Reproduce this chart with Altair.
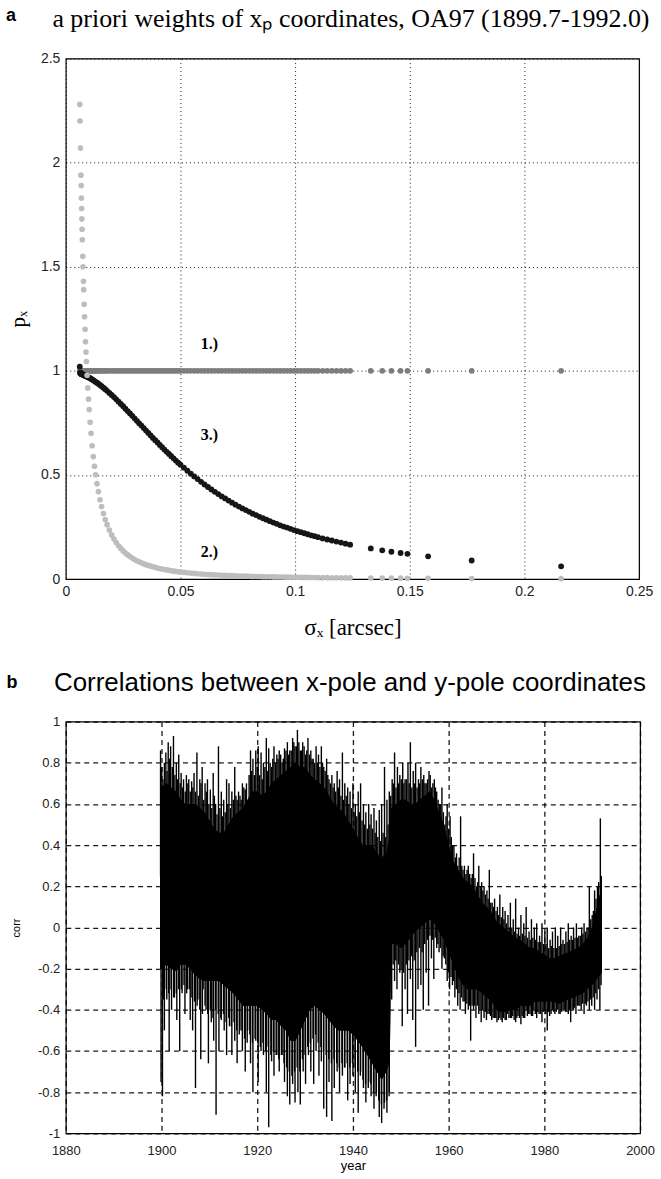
import altair as alt
import pandas as pd
import numpy as np

# ---------------- panel a data ----------------
sigma = [0.0061, 0.0062, 0.0064, 0.0066, 0.0067, 0.0068, 0.0069, 0.0070, 0.0071, 0.0072,
         0.0074, 0.0075, 0.0077, 0.0078, 0.0080, 0.0082, 0.0084, 0.0086, 0.0088, 0.0090,
         0.0093, 0.0096, 0.0099, 0.0102, 0.0106, 0.0110, 0.0115, 0.0120, 0.0125, 0.0130,
         0.0136, 0.0142, 0.0149, 0.0156, 0.0164, 0.0172, 0.0180, 0.0190, 0.0200, 0.0210,
         0.0220, 0.0230, 0.0240, 0.0250, 0.0260, 0.0270, 0.0280, 0.0290, 0.0300,
         0.0310, 0.0320, 0.0330, 0.0340, 0.0350, 0.0360, 0.0370, 0.0380, 0.0390, 0.0400,
         0.0410, 0.0420, 0.0430, 0.0440, 0.0450, 0.0460, 0.0470, 0.0480, 0.0490, 0.0500,
         0.0515, 0.0530, 0.0545, 0.0560, 0.0575, 0.0590, 0.0605, 0.0620, 0.0635, 0.0650,
         0.0665, 0.0680, 0.0695, 0.0710, 0.0725, 0.0740, 0.0755, 0.0770, 0.0785, 0.0800,
         0.0815, 0.0830, 0.0845, 0.0860, 0.0875, 0.0890, 0.0905, 0.0920, 0.0935, 0.0950,
         0.0965, 0.0980, 0.0995, 0.1010, 0.1025, 0.1040, 0.1055, 0.1070, 0.1085, 0.1100,
         0.1120, 0.1140, 0.1160, 0.1180, 0.1200, 0.1220, 0.1240,
         0.1330, 0.1380, 0.1420, 0.1460, 0.1490, 0.1580, 0.1770, 0.2160]

# series 1.) equal weights
p_equal = [1.0] * len(sigma)

# series 2.) weights falling steeply
p_steep = [2.28, 2.20, 2.07, 1.94, 1.89, 1.83, 1.78, 1.73, 1.68, 1.63,
           1.55, 1.50, 1.43, 1.39, 1.32, 1.26, 1.20, 1.14, 1.09, 1.045,
           0.979, 0.918, 0.864, 0.814, 0.753, 0.700, 0.640, 0.588, 0.542, 0.501,
           0.458, 0.420, 0.381, 0.348, 0.315, 0.286, 0.261, 0.235, 0.212, 0.192,
           0.175, 0.160, 0.147, 0.135, 0.125, 0.116, 0.108, 0.101, 0.094,
           0.088, 0.083, 0.078, 0.073, 0.069, 0.065, 0.062, 0.059, 0.056, 0.053,
           0.050, 0.048, 0.046, 0.044, 0.042, 0.040, 0.038, 0.037, 0.035, 0.034,
           0.032, 0.030, 0.0285, 0.027, 0.0256, 0.0243, 0.0231, 0.022, 0.021, 0.020,
           0.0191, 0.0183, 0.0175, 0.0168, 0.0161, 0.0155, 0.0148, 0.0143, 0.0137, 0.0132,
           0.0127, 0.0123, 0.0119, 0.0114, 0.0111, 0.0107, 0.0103, 0.0100, 0.0097, 0.0094,
           0.0091, 0.0088, 0.0085, 0.0083, 0.0081, 0.0078, 0.0076, 0.0074, 0.0072, 0.0070,
           0.0067, 0.0065, 0.0063, 0.0061, 0.0059, 0.0057, 0.0055,
           0.0048, 0.0044, 0.0042, 0.0040, 0.0038, 0.0034, 0.0027, 0.0018]

# series 3.) weights falling smoothly
p_smooth = [1.02, 0.99, 0.99, 0.99, 0.985, 0.985, 0.985, 0.984, 0.984, 0.983,
            0.982, 0.982, 0.981, 0.980, 0.979, 0.978, 0.977, 0.976, 0.975, 0.974,
            0.972, 0.971, 0.969, 0.967, 0.964, 0.962, 0.958, 0.955, 0.951, 0.947,
            0.943, 0.938, 0.932, 0.926, 0.919, 0.912, 0.904, 0.894, 0.884, 0.874,
            0.863, 0.852, 0.841, 0.830, 0.818, 0.807, 0.795, 0.784, 0.772,
            0.760, 0.748, 0.737, 0.725, 0.713, 0.702, 0.690, 0.678, 0.667, 0.656,
            0.644, 0.633, 0.622, 0.611, 0.601, 0.590, 0.580, 0.569, 0.559, 0.549,
            0.535, 0.520, 0.506, 0.493, 0.480, 0.467, 0.454, 0.442, 0.430, 0.419,
            0.408, 0.397, 0.387, 0.377, 0.367, 0.357, 0.348, 0.339, 0.331, 0.323,
            0.314, 0.307, 0.299, 0.292, 0.285, 0.278, 0.271, 0.265, 0.258, 0.252,
            0.247, 0.241, 0.235, 0.230, 0.225, 0.220, 0.215, 0.210, 0.206, 0.201,
            0.195, 0.190, 0.185, 0.180, 0.175, 0.170, 0.165,
            0.147, 0.138, 0.131, 0.125, 0.121, 0.109, 0.089, 0.061]

assert len(sigma) == len(p_steep) == len(p_smooth)

label_text = ["1.)", "3.)", "2.)"]
label_sigma = [0.0626, 0.0626, 0.0626]
label_p = [1.13, 0.69, 0.13]

title_a = "a priori weights of xₚ coordinates, OA97 (1899.7-1992.0)"
title_b = "Correlations between x-pole and y-pole coordinates"

# ---------------- panel b data ----------------
core_years = [1899.7, 1900, 1901, 1902, 1903, 1904, 1905, 1906, 1907, 1908, 1909,
              1910, 1911, 1912, 1913, 1914, 1915, 1916, 1917, 1918, 1919,
              1920, 1921, 1922, 1923, 1924, 1925, 1926, 1927, 1928, 1929,
              1930, 1931, 1932, 1933, 1934, 1935, 1936, 1937, 1938, 1939,
              1940, 1941, 1942, 1943, 1944, 1945, 1946, 1947, 1947.7, 1948, 1949,
              1950, 1951, 1952, 1953, 1954, 1955, 1956, 1957, 1958, 1959,
              1960, 1961, 1962, 1963, 1964, 1965, 1966, 1967, 1968, 1969,
              1970, 1971, 1972, 1973, 1974, 1975, 1976, 1977, 1978, 1979,
              1980, 1981, 1982, 1983, 1984, 1985, 1986, 1987, 1988, 1989,
              1990, 1991, 1992.0]
core_top = [0.70, 0.68, 0.70, 0.68, 0.66, 0.62, 0.60, 0.60, 0.60, 0.58, 0.56,
            0.52, 0.48, 0.46, 0.46, 0.50, 0.54, 0.56, 0.58, 0.62, 0.66,
            0.66, 0.64, 0.66, 0.70, 0.72, 0.74, 0.76, 0.78, 0.80, 0.78,
            0.78, 0.74, 0.72, 0.70, 0.68, 0.64, 0.60, 0.58, 0.56, 0.52,
            0.48, 0.44, 0.40, 0.40, 0.40, 0.36, 0.34, 0.36, 0.45, 0.58, 0.60,
            0.62, 0.62, 0.60, 0.60, 0.62, 0.64, 0.66, 0.62, 0.56, 0.50,
            0.40, 0.32, 0.28, 0.24, 0.22, 0.20, 0.16, 0.12, 0.10, 0.07,
            0.03, 0.01, -0.01, -0.03, -0.05, -0.06, -0.08, -0.10, -0.10, -0.12,
            -0.13, -0.15, -0.15, -0.14, -0.13, -0.12, -0.11, -0.10, -0.08, -0.05,
            0.00, 0.10, 0.20]
core_bottom = [-0.20, -0.20, -0.18, -0.20, -0.21, -0.18, -0.18, -0.20, -0.23, -0.25, -0.26,
               -0.26, -0.26, -0.26, -0.28, -0.30, -0.32, -0.35, -0.38, -0.38, -0.38,
               -0.38, -0.40, -0.42, -0.45, -0.45, -0.48, -0.50, -0.55, -0.55, -0.50,
               -0.45, -0.40, -0.38, -0.40, -0.42, -0.45, -0.48, -0.50, -0.50, -0.50,
               -0.52, -0.55, -0.58, -0.62, -0.66, -0.70, -0.74, -0.70, -0.65, -0.08, -0.08,
               -0.10, -0.08, -0.05, -0.02, 0.00, 0.02, 0.04, 0.02, -0.02, -0.06,
               -0.12, -0.18, -0.24, -0.28, -0.30, -0.30, -0.30, -0.32, -0.34, -0.36,
               -0.40, -0.41, -0.41, -0.40, -0.40, -0.38, -0.38, -0.38, -0.36, -0.36,
               -0.36, -0.36, -0.36, -0.37, -0.36, -0.35, -0.34, -0.33, -0.32, -0.30,
               -0.28, -0.25, -0.22]
assert len(core_years) == len(core_top) == len(core_bottom)

# long spikes (extremes)
up_years = [1899.8, 1900.3, 1900.9, 1901.4, 1901.9, 1902.5, 1903.1, 1903.6, 1904.1, 1904.6,
            1905.2, 1905.7, 1906.3, 1906.8, 1907.4, 1908.0, 1908.5, 1909.1, 1909.6, 1910.2,
            1910.8, 1911.3, 1911.9, 1912.5, 1913.0, 1913.6, 1914.1, 1914.7, 1915.3, 1915.8,
            1916.4, 1916.9, 1917.5, 1918.0, 1918.6, 1919.1, 1919.7, 1920.2, 1920.8, 1921.3,
            1921.9, 1922.4, 1923.0, 1923.5, 1924.1, 1924.6, 1925.2, 1925.7, 1926.3, 1926.8,
            1927.4, 1927.9, 1928.4, 1929.0, 1929.5, 1930.1, 1930.6, 1931.2, 1931.7, 1932.3,
            1932.8, 1933.4, 1933.9, 1934.5, 1935.0, 1935.6, 1936.1, 1936.7, 1937.2, 1937.8,
            1938.3, 1938.9, 1939.4, 1940.0, 1940.5, 1941.1, 1941.6, 1942.2, 1942.7, 1943.3,
            1943.8, 1944.4, 1944.9, 1945.5, 1946.0, 1946.6, 1947.1, 1947.6, 1948.2, 1948.7,
            1949.3, 1949.8, 1950.4, 1950.9, 1951.5, 1952.0, 1952.6, 1953.1, 1953.7, 1954.2,
            1954.8, 1955.3, 1955.9, 1956.4, 1957.0, 1957.5, 1958.1, 1958.6, 1959.2, 1959.7,
            1960.3, 1960.8, 1961.4, 1961.9, 1962.5, 1963.0, 1963.6, 1964.1, 1964.7, 1965.2,
            1965.8, 1966.3, 1966.9, 1967.4, 1968.0, 1968.5, 1969.1, 1969.6, 1970.2, 1970.7,
            1971.3, 1971.8, 1972.4, 1972.9, 1973.5, 1974.0, 1974.6, 1975.1, 1975.7, 1976.2,
            1976.8, 1977.3, 1977.9, 1978.4, 1979.0, 1979.5, 1980.1, 1980.6, 1981.2, 1981.7,
            1982.3, 1982.8, 1983.4, 1983.9, 1984.5, 1985.0, 1985.6, 1986.1, 1986.7, 1987.2,
            1987.8, 1988.3, 1988.9, 1989.4, 1990.0, 1990.5, 1991.1, 1991.7]
up_vals = [0.86, 0.72, 0.85, 0.90, 0.88, 0.93, 0.80, 0.84, 0.75, 0.72,
           0.74, 0.72, 0.71, 0.75, 0.85, 0.72, 0.78, 0.70, 0.72, 0.67,
           0.75, 0.60, 0.88, 0.66, 0.62, 0.72, 0.70, 0.66, 0.78, 0.62,
           0.64, 0.70, 0.67, 0.62, 0.86, 0.82, 0.86, 0.88, 0.85, 0.80,
           0.92, 0.87, 0.78, 0.88, 0.84, 0.86, 0.80, 0.87, 0.90, 0.86,
           0.92, 0.88, 0.96, 0.86, 0.90, 0.84, 0.92, 0.86, 0.82, 0.88,
           0.84, 0.88, 0.78, 0.82, 0.72, 0.74, 0.70, 0.76, 0.72, 0.85,
           0.70, 0.68, 0.66, 0.70, 0.60, 0.66, 0.70, 0.60, 0.56, 0.60,
           0.55, 0.58, 0.52, 0.57, 0.60, 0.78, 0.62, 0.66, 0.72, 0.85,
           0.78, 0.74, 0.80, 0.72, 0.80, 0.90, 0.76, 0.80, 0.72, 0.78,
           0.74, 0.70, 0.76, 0.68, 0.72, 0.66, 0.60, 0.68, 0.50, 0.60,
           0.54, 0.40, 0.34, 0.30, 0.54, 0.28, 0.26, 0.30, 0.24, 0.36,
           0.20, 0.30, 0.22, 0.20, 0.18, 0.28, 0.12, 0.14, 0.10, 0.16,
           0.10, 0.08, 0.06, 0.12, 0.04, 0.14, 0.00, 0.06, 0.02, 0.10,
           -0.02, 0.04, 0.00, 0.02, -0.04, 0.02, -0.02, 0.00, -0.06, -0.02,
           0.00, -0.04, 0.00, -0.06, -0.02, 0.02, -0.04, 0.00, 0.02, -0.04,
           0.00, 0.02, 0.00, 0.20, 0.06, 0.18, 0.20, 0.53]
down_years = [1899.9, 1900.2, 1900.6, 1901.1, 1901.6, 1902.1, 1902.7, 1903.2, 1903.8, 1904.3,
              1904.9, 1905.4, 1906.0, 1906.5, 1907.1, 1907.6, 1908.2, 1908.7, 1909.3, 1909.8,
              1910.4, 1910.9, 1911.4, 1912.0, 1912.5, 1913.1, 1913.6, 1914.2, 1914.7, 1915.3,
              1915.8, 1916.4, 1916.9, 1917.5, 1918.0, 1918.6, 1919.1, 1919.7, 1920.2, 1920.8,
              1921.3, 1921.9, 1922.4, 1923.0, 1923.5, 1924.1, 1924.6, 1925.2, 1925.7, 1926.3,
              1926.8, 1927.4, 1927.9, 1928.5, 1929.0, 1929.6, 1930.1, 1930.7, 1931.2, 1931.8,
              1932.3, 1932.9, 1933.4, 1933.9, 1934.5, 1935.0, 1935.6, 1936.1, 1936.7, 1937.2,
              1937.8, 1938.3, 1938.9, 1939.4, 1940.0, 1940.5, 1941.1, 1941.6, 1942.2, 1942.7,
              1943.3, 1943.8, 1944.4, 1944.9, 1945.5, 1946.0, 1946.6, 1947.1, 1947.6, 1948.1,
              1948.7, 1949.2, 1949.8, 1950.3, 1950.9, 1951.4, 1952.0, 1952.5, 1953.1, 1953.6,
              1954.2, 1954.7, 1955.3, 1955.8, 1956.4, 1956.9, 1957.5, 1958.0, 1958.6, 1959.1,
              1959.7, 1960.2, 1960.8, 1961.3, 1961.9, 1962.4, 1963.0, 1963.5, 1964.1, 1964.6,
              1965.2, 1965.7, 1966.3, 1966.8, 1967.4, 1967.9, 1968.5, 1969.0, 1969.6, 1970.1,
              1970.7, 1971.2, 1971.8, 1972.3, 1972.9, 1973.4, 1974.0, 1974.5, 1975.1, 1975.6,
              1976.2, 1976.7, 1977.3, 1977.8, 1978.4, 1978.9, 1979.5, 1980.0, 1980.6, 1981.1,
              1981.7, 1982.2, 1982.8, 1983.3, 1983.9, 1984.4, 1985.0, 1985.5, 1986.1, 1986.6,
              1987.2, 1987.7, 1988.3, 1988.8, 1989.4, 1989.9, 1990.5, 1991.0, 1991.6]
down_vals = [-0.75, -0.82, -0.50, -0.35, -0.60, -0.40, -0.34, -0.45, -0.60, -0.32,
             -0.42, -0.30, -0.45, -0.50, -0.78, -0.35, -0.64, -0.30, -0.40, -0.66,
             -0.46, -0.55, -0.91, -0.60, -0.45, -0.50, -0.62, -0.48, -0.62, -0.55,
             -0.66, -0.50, -0.60, -0.70, -0.50, -0.66, -0.80, -0.55, -0.75, -0.60,
             -0.62, -0.80, -0.97, -0.65, -0.72, -0.62, -0.70, -0.62, -0.75, -0.82,
             -0.86, -0.76, -0.85, -0.80, -0.86, -0.70, -0.76, -0.62, -0.70, -0.76,
             -0.60, -0.72, -0.65, -0.88, -0.92, -0.75, -0.94, -0.78, -0.70, -0.80,
             -0.72, -0.68, -0.84, -0.76, -0.72, -0.80, -0.90, -0.70, -0.78, -0.85,
             -0.75, -0.82, -0.88, -0.80, -0.92, -0.95, -0.85, -0.90, -0.80, -0.35,
             -0.26, -0.30, -0.22, -0.48, -0.30, -0.42, -0.25, -0.45, -0.58, -0.30,
             -0.28, -0.40, -0.22, -0.38, -0.15, -0.25, -0.10, -0.12, -0.20, -0.15,
             -0.26, -0.30, -0.28, -0.34, -0.38, -0.40, -0.36, -0.42, -0.40, -0.55,
             -0.40, -0.44, -0.42, -0.46, -0.44, -0.45, -0.42, -0.45, -0.44, -0.46,
             -0.44, -0.46, -0.45, -0.42, -0.44, -0.43, -0.46, -0.43, -0.47, -0.44,
             -0.40, -0.42, -0.43, -0.40, -0.44, -0.42, -0.46, -0.40, -0.50, -0.43,
             -0.40, -0.42, -0.40, -0.42, -0.40, -0.41, -0.42, -0.46, -0.40, -0.42,
             -0.38, -0.40, -0.42, -0.38, -0.40, -0.38, -0.40, -0.35, -0.40]

# shorter fringe spikes just outside the dense band
up2_years = [1900.05, 1900.6, 1901.15, 1901.7, 1902.25, 1902.8, 1903.35, 1903.9, 1904.4, 1904.95,
             1905.5, 1906.0, 1906.55, 1907.1, 1907.7, 1908.25, 1908.8, 1909.35, 1909.9, 1910.5,
             1911.05, 1911.6, 1912.2, 1912.75, 1913.3, 1913.85, 1914.4, 1915.0, 1915.55, 1916.1,
             1916.65, 1917.2, 1917.75, 1918.3, 1918.85, 1919.4, 1920.0, 1920.5, 1921.05, 1921.6,
             1922.15, 1922.7, 1923.25, 1923.8, 1924.35, 1924.9, 1925.45, 1926.0, 1926.55, 1927.1,
             1927.65, 1928.2, 1928.7, 1929.25, 1929.8, 1930.35, 1930.9, 1931.45, 1932.0, 1932.55,
             1933.1, 1933.65, 1934.2, 1934.75, 1935.3, 1935.85, 1936.4, 1936.95, 1937.5, 1938.05,
             1938.6, 1939.15, 1939.7, 1940.25, 1940.8, 1941.35, 1941.9, 1942.45, 1943.0, 1943.55,
             1944.1, 1944.65, 1945.2, 1945.75, 1946.3, 1946.85, 1947.35, 1947.9, 1948.45, 1949.0,
             1949.55, 1950.1, 1950.65, 1951.2, 1951.75, 1952.3, 1952.85, 1953.4, 1953.95, 1954.5,
             1955.05, 1955.6, 1956.15, 1956.7, 1957.25, 1957.8, 1958.35, 1958.9, 1959.45, 1960.0,
             1960.55, 1961.1, 1961.65, 1962.2, 1962.75, 1963.3, 1963.85, 1964.4, 1964.95, 1965.5,
             1966.05, 1966.6, 1967.15, 1967.7, 1968.25, 1968.8, 1969.35, 1969.9, 1970.45, 1971.0,
             1971.55, 1972.1, 1972.65, 1973.2, 1973.75, 1974.3, 1974.85, 1975.4, 1975.95, 1976.5,
             1977.05, 1977.6, 1978.15, 1978.7, 1979.25, 1979.8, 1980.35, 1980.9, 1981.45, 1982.0,
             1982.55, 1983.1, 1983.65, 1984.2, 1984.75, 1985.3, 1985.85, 1986.4, 1986.95, 1987.5,
             1988.05, 1988.6, 1989.15, 1989.7, 1990.25, 1990.8, 1991.35, 1991.9]
up2_vals = [0.78, 0.80, 0.76, 0.82, 0.78, 0.74, 0.72, 0.70, 0.68, 0.66,
            0.70, 0.66, 0.68, 0.66, 0.64, 0.70, 0.62, 0.66, 0.60, 0.58,
            0.64, 0.55, 0.58, 0.54, 0.56, 0.60, 0.58, 0.62, 0.64, 0.66,
            0.62, 0.68, 0.70, 0.74, 0.76, 0.74, 0.78, 0.74, 0.72, 0.78,
            0.76, 0.80, 0.82, 0.80, 0.82, 0.84, 0.82, 0.86, 0.84, 0.86,
            0.90, 0.88, 0.90, 0.86, 0.88, 0.86, 0.84, 0.82, 0.80, 0.80,
            0.78, 0.80, 0.76, 0.74, 0.70, 0.68, 0.66, 0.68, 0.64, 0.62,
            0.64, 0.60, 0.58, 0.56, 0.54, 0.56, 0.52, 0.50, 0.48, 0.50,
            0.48, 0.46, 0.44, 0.42, 0.46, 0.44, 0.50, 0.64, 0.70, 0.68,
            0.70, 0.72, 0.70, 0.72, 0.70, 0.68, 0.70, 0.68, 0.70, 0.72,
            0.70, 0.72, 0.74, 0.70, 0.68, 0.62, 0.60, 0.56, 0.54, 0.48,
            0.44, 0.40, 0.36, 0.34, 0.30, 0.30, 0.28, 0.26, 0.26, 0.24,
            0.22, 0.20, 0.18, 0.16, 0.14, 0.12, 0.10, 0.08, 0.06, 0.05,
            0.04, 0.02, 0.00, 0.00, -0.02, -0.03, -0.04, -0.03, -0.04, -0.05,
            -0.06, -0.05, -0.06, -0.07, -0.07, -0.08, -0.08, -0.10, -0.09, -0.10,
            -0.10, -0.09, -0.08, -0.08, -0.07, -0.06, -0.06, -0.05, -0.05, -0.04,
            -0.03, -0.02, 0.00, 0.04, 0.08, 0.14, 0.22, 0.25]
down2_years = [1900.45, 1901.0, 1901.5, 1902.0, 1902.55, 1903.1, 1903.6, 1904.15, 1904.7, 1905.25,
               1905.8, 1906.35, 1906.9, 1907.45, 1908.0, 1908.55, 1909.1, 1909.65, 1910.2, 1910.75,
               1911.3, 1911.85, 1912.4, 1912.95, 1913.5, 1914.05, 1914.6, 1915.15, 1915.7, 1916.25,
               1916.8, 1917.35, 1917.9, 1918.45, 1919.0, 1919.55, 1920.1, 1920.65, 1921.2, 1921.75,
               1922.3, 1922.85, 1923.4, 1923.95, 1924.5, 1925.05, 1925.6, 1926.15, 1926.7, 1927.25,
               1927.8, 1928.35, 1928.9, 1929.45, 1930.0, 1930.55, 1931.1, 1931.65, 1932.2, 1932.75,
               1933.3, 1933.85, 1934.4, 1934.95, 1935.5, 1936.05, 1936.6, 1937.15, 1937.7, 1938.25,
               1938.8, 1939.35, 1939.9, 1940.45, 1941.0, 1941.55, 1942.1, 1942.65, 1943.2, 1943.75,
               1944.3, 1944.85, 1945.4, 1945.95, 1946.5, 1947.05, 1947.55, 1948.4, 1948.95, 1949.5,
               1950.05, 1950.6, 1951.15, 1951.7, 1952.25, 1952.8, 1953.35, 1953.9, 1954.45, 1955.0,
               1955.55, 1956.1, 1956.65, 1957.2, 1957.75, 1958.3, 1958.85, 1959.4, 1959.95, 1960.5,
               1961.05, 1961.6, 1962.15, 1962.7, 1963.25, 1963.8, 1964.35, 1964.9, 1965.45, 1966.0,
               1966.55, 1967.1, 1967.65, 1968.2, 1968.75, 1969.3, 1969.85, 1970.4, 1970.95, 1971.5,
               1972.05, 1972.6, 1973.15, 1973.7, 1974.25, 1974.8, 1975.35, 1975.9, 1976.45, 1977.0,
               1977.55, 1978.1, 1978.65, 1979.2, 1979.75, 1980.3, 1980.85, 1981.4, 1981.95, 1982.5,
               1983.05, 1983.6, 1984.15, 1984.7, 1985.25, 1985.8, 1986.35, 1986.9, 1987.45, 1988.0,
               1988.55, 1989.1, 1989.65, 1990.2, 1990.75, 1991.3, 1991.85]
down2_vals = [-0.35, -0.30, -0.32, -0.30, -0.34, -0.32, -0.30, -0.30, -0.28, -0.32,
              -0.30, -0.34, -0.36, -0.38, -0.40, -0.42, -0.38, -0.42, -0.40, -0.44,
              -0.40, -0.42, -0.44, -0.42, -0.46, -0.44, -0.48, -0.46, -0.50, -0.52,
              -0.50, -0.54, -0.56, -0.52, -0.56, -0.54, -0.56, -0.58, -0.56, -0.60,
              -0.58, -0.62, -0.60, -0.62, -0.64, -0.62, -0.66, -0.68, -0.70, -0.72,
              -0.70, -0.68, -0.70, -0.64, -0.62, -0.58, -0.56, -0.54, -0.52, -0.56,
              -0.58, -0.60, -0.62, -0.64, -0.66, -0.64, -0.66, -0.68, -0.66, -0.68,
              -0.66, -0.68, -0.66, -0.68, -0.70, -0.72, -0.74, -0.76, -0.78, -0.76,
              -0.80, -0.82, -0.84, -0.86, -0.88, -0.84, -0.82, -0.18, -0.16, -0.18,
              -0.20, -0.22, -0.18, -0.16, -0.14, -0.16, -0.12, -0.10, -0.12, -0.08,
              -0.06, -0.04, -0.06, -0.05, -0.08, -0.10, -0.14, -0.18, -0.22, -0.24,
              -0.26, -0.30, -0.32, -0.34, -0.36, -0.37, -0.38, -0.38, -0.38, -0.38,
              -0.40, -0.40, -0.41, -0.42, -0.43, -0.44, -0.44, -0.45, -0.45, -0.44,
              -0.45, -0.44, -0.44, -0.45, -0.44, -0.44, -0.43, -0.44, -0.43, -0.42,
              -0.43, -0.42, -0.41, -0.42, -0.41, -0.42, -0.41, -0.42, -0.41, -0.41,
              -0.42, -0.41, -0.40, -0.41, -0.40, -0.40, -0.39, -0.38, -0.38, -0.37,
              -0.37, -0.36, -0.35, -0.34, -0.32, -0.30, -0.28]

assert len(up_years) == len(up_vals)
assert len(down_years) == len(down_vals)
assert len(up2_years) == len(up2_vals)
assert len(down2_years) == len(down2_vals)

# ---------------- build frames ----------------
df_a = pd.concat([
    pd.DataFrame({"sigma": sigma, "p": p_equal, "series": "1"}),
    pd.DataFrame({"sigma": sigma, "p": p_smooth, "series": "3"}),
    pd.DataFrame({"sigma": sigma, "p": p_steep, "series": "2"}),
], ignore_index=True)
df_labels = pd.DataFrame({"t": label_text, "sigma": label_sigma, "p": label_p})

df_core = pd.DataFrame({"year": core_years, "top": core_top, "bottom": core_bottom})
core_mid = (np.array(core_top) + np.array(core_bottom)) / 2
spike_years = up_years + down_years + up2_years + down2_years
spike_vals = up_vals + down_vals + up2_vals + down2_vals
df_spikes = pd.DataFrame({
    "year": spike_years,
    "v": spike_vals,
    "anchor": np.interp(spike_years, core_years, core_mid),
})

LABEL_FONT = "Liberation Sans"
SERIF = "Liberation Serif"

# ---------------- panel a ----------------
xa = alt.X("sigma:Q", scale=alt.Scale(domain=[0, 0.25], nice=False),
           axis=alt.Axis(values=[0, 0.05, 0.1, 0.15, 0.2, 0.25], format="~g",
                         title="σₓ [arcsec]", titleFont=SERIF, titleFontSize=23,
                         titleFontWeight="normal", titlePadding=18, labelFlush=False,
                         labelFontSize=14, gridDash=[1, 3]))
ya = alt.Y("p:Q", scale=alt.Scale(domain=[0, 2.5], nice=False),
           axis=alt.Axis(values=[0, 0.5, 1, 1.5, 2, 2.5], format="~g",
                         title="pₓ", titleFont=SERIF, titleFontSize=21,
                         titleFontWeight="normal", titlePadding=12,
                         labelFontSize=14, gridDash=[1, 3]))

def pts(series, color, size):
    return alt.Chart(df_a).transform_filter(
        alt.datum.series == series
    ).mark_point(filled=True, shape="circle", size=size, opacity=1, color=color).encode(x=xa, y=ya)

labels_a = alt.Chart(df_labels).mark_text(
    font=SERIF, fontWeight="bold", fontSize=16, color="black"
).encode(x=alt.X("sigma:Q"), y=alt.Y("p:Q"), text="t:N")

title_a_txt = alt.Chart(pd.DataFrame({"t": [title_a]})).mark_text(
    font=SERIF, fontSize=26, color="black", align="center", baseline="middle"
).encode(x=alt.value(286), y=alt.value(-40), text="t:N")
letter_a = alt.Chart(pd.DataFrame({"t": ["a"]})).mark_text(
    font=LABEL_FONT, fontSize=18, fontWeight="bold", color="black", align="center", baseline="middle"
).encode(x=alt.value(-55), y=alt.value(-43), text="t:N")

panel_a = alt.layer(
    pts("1", "#7d7d7d", 34), pts("3", "#161616", 34), pts("2", "#bdbdbd", 32),
    labels_a, title_a_txt, letter_a
).properties(width=575, height=522)

# ---------------- panel b ----------------
xb = alt.X("year:Q", scale=alt.Scale(domain=[1880, 2000], nice=False),
           axis=alt.Axis(values=[1880, 1900, 1920, 1940, 1960, 1980, 2000], format="d",
                         title="year", titleFontSize=13, titleFontWeight="normal",
                         titlePadding=2, labelFontSize=13, labelFlush=False, labelPadding=11,
                         gridDash=[5, 4], gridWidth=1.3))
yb_axis = alt.Axis(values=[-1, -0.8, -0.6, -0.4, -0.2, 0, 0.2, 0.4, 0.6, 0.8, 1],
                   labelExpr="datum.value < 0 ? '-' + format(-datum.value, '~g') : format(datum.value, '~g')",
                   title="corr", titleFontSize=11, titleFontWeight="normal",
                   titlePadding=16, labelFontSize=13, gridDash=[5, 4], gridWidth=1.3)
yscale_b = alt.Scale(domain=[-1, 1], nice=False)

spikes = alt.Chart(df_spikes).mark_rule(color="black", strokeWidth=1.4).encode(
    x=alt.X("year:Q", scale=alt.Scale(domain=[1880, 2000], nice=False)),
    y=alt.Y("v:Q", scale=yscale_b), y2="anchor:Q")
core = alt.Chart(df_core).mark_area(color="black", opacity=1).encode(
    x=xb, y=alt.Y("top:Q", scale=yscale_b, axis=yb_axis), y2="bottom:Q")

title_b_txt = alt.Chart(pd.DataFrame({"t": [title_b]})).mark_text(
    font=LABEL_FONT, fontSize=26, color="black", align="center", baseline="middle"
).encode(x=alt.value(285), y=alt.value(-39), text="t:N")
letter_b = alt.Chart(pd.DataFrame({"t": ["b"]})).mark_text(
    font=LABEL_FONT, fontSize=18, fontWeight="bold", color="black", align="center", baseline="middle"
).encode(x=alt.value(-54), y=alt.value(-39), text="t:N")

panel_b = alt.layer(core, spikes, core, title_b_txt, letter_b).properties(width=576, height=413)

chart = alt.vconcat(panel_a, panel_b, spacing=28).properties(
    padding={"left": 5, "top": 3, "right": 5, "bottom": 0}
).configure_view(stroke="black", strokeWidth=1.2).configure_axis(
    labelFont=LABEL_FONT, titleFont=LABEL_FONT, labelColor="#222", titleColor="black",
    ticks=False, domain=False, grid=True, gridColor="black", gridOpacity=0.9,
    labelPadding=6
)

chart.save("out.html", embed_options={"renderer": "svg", "actions": False})
